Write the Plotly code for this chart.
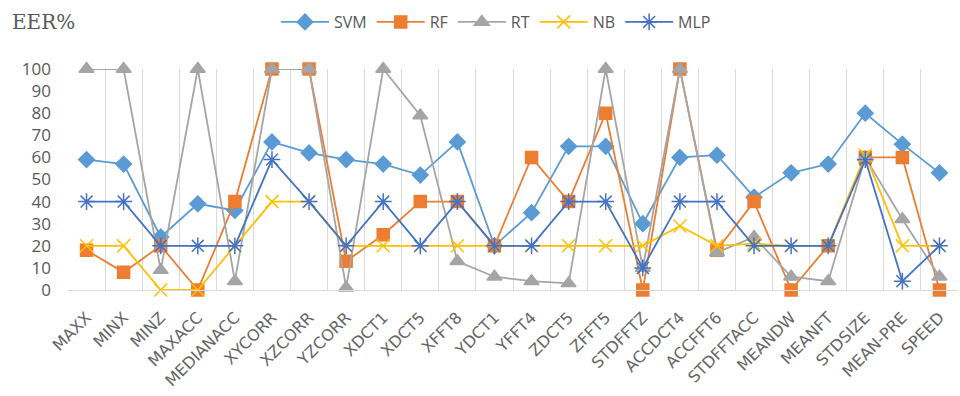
import plotly.graph_objects as go

categories = ["MAXX", "MINX", "MINZ", "MAXACC", "MEDIANACC", "XYCORR", "XZCORR", "YZCORR",
              "XDCT1", "XDCT5", "XFFT8", "YDCT1", "YFFT4", "ZDCT5", "ZFFT5", "STDFFTZ",
              "ACCDCT4", "ACCFFT6", "STDFFTACC", "MEANDW", "MEANFT", "STDSIZE", "MEAN-PRE", "SPEED"]

svm = [59, 57, 24, 39, 36, 67, 62, 59, 57, 52, 67, 20, 35, 65, 65, 30, 60, 61, 42, 53, 57, 80, 66, 53]
rf = [18, 8, 20, 0, 40, 100, 100, 13, 25, 40, 40, 20, 60, 40, 80, 0, 100, 18, 40, 0, 20, 60, 60, 0]
rt = [100, 100, 9, 100, 4, 100, 100, 1, 100, 79, 13, 6, 4, 3, 100, 10, 100, 17, 24, 6, 4, 60, 32, 6]
nb = [20, 20, 0, 0, 20, 40, 40, 20, 20, 20, 20, 20, 20, 20, 20, 20, 29, 20, 21, 20, 20, 61, 20, 20]
mlp = [40, 40, 20, 20, 20, 59, 40, 20, 40, 20, 40, 20, 20, 40, 40, 10, 40, 40, 20, 20, 20, 59, 4, 20]

series = [
    ("SVM", svm, "#5B9BD5", "diamond", 12),
    ("RF", rf, "#ED7D31", "square", 12),
    ("RT", rt, "#A5A5A5", "triangle-up", 13),
    ("NB", nb, "#FFC000", "x-thin-open", 13),
    ("MLP", mlp, "#4472C4", "asterisk-open", 14),
]

fig = go.Figure()
for name, vals, color, sym, size in series:
    fig.add_trace(go.Scatter(
        x=categories, y=vals, name=name, mode="lines+markers",
        line=dict(color=color, width=1.8),
        marker=dict(symbol=sym, size=size, color=color,
                    line=dict(color=color, width=1.5)),
        cliponaxis=False,
    ))

fig.update_layout(
    width=960, height=396,
    margin=dict(l=68, r=2, t=69, b=106),
    paper_bgcolor="white", plot_bgcolor="white",
    title=dict(text="EER%", xref="container", x=12/960, xanchor="left",
               yref="container", y=1-22/396, yanchor="middle",
               font=dict(family="DejaVu Serif", size=20, color="#595959")),
    legend=dict(orientation="h", xref="container", x=496/960, xanchor="center",
                yref="container", y=1-22/396, yanchor="middle",
                font=dict(family="Open Sans", size=16, color="#595959"),
                itemwidth=48, tracegroupgap=0),
    xaxis=dict(type="category", range=[-0.5, 23.5], tickson="boundaries",
               showgrid=True, gridcolor="#D9D9D9", gridwidth=1,
               showline=True, linecolor="#D9D9D9", linewidth=1,
               ticks="", tickangle=-45, ticklabelstandoff=11,
               tickfont=dict(family="DejaVu Sans", size=16, color="#666666"),
               automargin=False, zeroline=False),
    yaxis=dict(range=[0, 100], dtick=10, showgrid=False, zeroline=False,
               showline=False, ticks="", ticklabelstandoff=16,
               tickfont=dict(family="Open Sans", size=17, color="#595959"),
               automargin=False),
)

fig.write_html("out.html")
